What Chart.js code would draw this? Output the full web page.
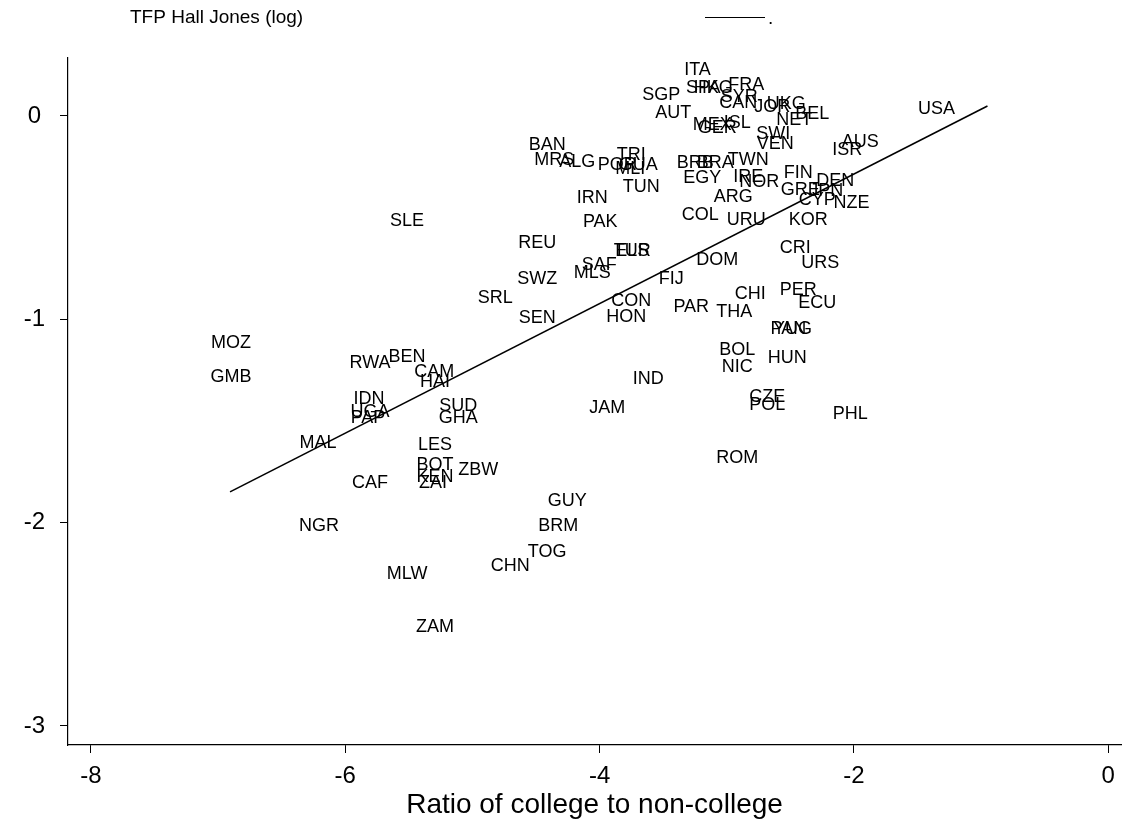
<!DOCTYPE html>
<html>
<head>
<meta charset="utf-8">
<script src="https://cdn.jsdelivr.net/npm/chart.js@4.4.0/dist/chart.umd.min.js"></script>
<style>
  html, body { margin: 0; padding: 0; background: #fff; }
</style>
</head>
<body>
<canvas id="scatter" width="1133" height="827"></canvas>
<script>
// Country codes, x = ratio of college to non-college (log), y = TFP Hall Jones (log)
const countries = [
  "USA", "ITA", "SPA", "HKG", "FRA", "SYR", "CAN", "SGP", "AUT", "MEX",
  "GER", "ISL", "JOR", "UKG", "BEL", "NET", "SWI", "VEN", "AUS", "ISR",
  "TWN", "BRB", "BRA", "EGY", "IRE", "NOR", "FIN", "DEN", "GRE", "JPN",
  "CYP", "NZE", "ARG", "URU", "KOR", "COL", "CRI", "URS", "DOM", "PER",
  "ECU", "CHI", "THA", "PAR", "PAN", "YUG", "BOL", "HUN", "NIC", "CZE",
  "POL", "PHL", "ROM", "BAN", "MRS", "ALG", "POR", "TRI", "MLI", "GUA",
  "TUN", "IRN", "PAK", "TUR", "ELS", "SAF", "MLS", "FIJ", "CON", "HON",
  "SLE", "REU", "SWZ", "SRL", "SEN", "MOZ", "GMB", "RWA", "BEN", "CAM",
  "HAI", "IDN", "UGA", "PAP", "SUD", "GHA", "MAL", "LES", "BOT", "KEN",
  "ZAI", "ZBW", "CAF", "NGR", "IND", "JAM", "GUY", "BRM", "TOG", "CHN",
  "MLW", "ZAM"
];
const collegeRatio = [
  -1.35, -3.23, -3.185, -3.106, -2.847, -2.902, -2.91, -3.515, -3.421, -3.114,
  -3.075, -2.917, -2.642, -2.532, -2.327, -2.469, -2.634, -2.619, -1.95, -2.052,
  -2.831, -3.248, -3.091, -3.193, -2.831, -2.744, -2.437, -2.146, -2.422, -2.217,
  -2.288, -2.02, -2.949, -2.847, -2.359, -3.208, -2.461, -2.264, -3.075, -2.437,
  -2.288, -2.815, -2.941, -3.279, -2.516, -2.484, -2.917, -2.524, -2.917, -2.681,
  -2.681, -2.028, -2.917, -4.412, -4.357, -4.176, -3.862, -3.751, -3.759, -3.696,
  -3.673, -4.058, -3.995, -3.744, -3.744, -4.003, -4.058, -3.437, -3.751, -3.791,
  -5.514, -4.491, -4.491, -4.821, -4.491, -6.898, -6.898, -5.805, -5.514, -5.301,
  -5.294, -5.813, -5.805, -5.821, -5.112, -5.112, -6.214, -5.294, -5.294, -5.294,
  -5.309, -4.955, -5.805, -6.206, -3.618, -3.94, -4.255, -4.326, -4.412, -4.703,
  -5.514, -5.294
];
const tfpLog = [
  0.034, 0.226, 0.138, 0.138, 0.152, 0.093, 0.064, 0.103, 0.015, -0.044,
  -0.059, -0.034, 0.044, 0.059, 0.01, -0.02, -0.089, -0.138, -0.128, -0.167,
  -0.216, -0.231, -0.231, -0.305, -0.3, -0.325, -0.28, -0.32, -0.364, -0.369,
  -0.413, -0.428, -0.398, -0.512, -0.512, -0.487, -0.649, -0.723, -0.708, -0.856,
  -0.92, -0.876, -0.964, -0.94, -1.048, -1.048, -1.151, -1.19, -1.235, -1.382,
  -1.422, -1.466, -1.682, -0.143, -0.216, -0.226, -0.241, -0.192, -0.261, -0.241,
  -0.349, -0.403, -0.521, -0.664, -0.664, -0.733, -0.772, -0.802, -0.91, -0.989,
  -0.516, -0.625, -0.802, -0.895, -0.994, -1.117, -1.284, -1.215, -1.185, -1.259,
  -1.308, -1.392, -1.456, -1.486, -1.426, -1.486, -1.608, -1.618, -1.717, -1.776,
  -1.805, -1.741, -1.805, -2.017, -1.294, -1.436, -1.894, -2.017, -2.145, -2.213,
  -2.253, -2.514
];

// fitted line end points
const fitX = [-6.906, -0.95];
const fitY = [-1.849, 0.049];

const xTicks = [-8, -6, -4, -2, 0];
const yTicks = [0, -1, -2, -3];

const FONT = "'Liberation Sans', Arial, sans-serif";

// draw the country codes centred on their points
const countryLabels = {
  id: "countryLabels",
  afterDatasetsDraw(chart) {
    const ctx = chart.ctx;
    const meta = chart.getDatasetMeta(0);
    ctx.save();
    ctx.font = "18px " + FONT;
    ctx.fillStyle = "#000";
    ctx.textAlign = "center";
    ctx.textBaseline = "middle";
    meta.data.forEach((pt, i) => {
      ctx.fillText(countries[i], pt.x, pt.y);
    });
    ctx.restore();
  },
};

// stata style legend on top
const topLegend = {
  id: "topLegend",
  afterDraw(chart) {
    const ctx = chart.ctx;
    ctx.save();
    ctx.font = "19px " + FONT;
    ctx.fillStyle = "#000";
    ctx.textBaseline = "middle";
    ctx.fillText("TFP Hall Jones (log)", 130, 18);
    ctx.strokeStyle = "#000";
    ctx.lineWidth = 1;
    ctx.beginPath();
    ctx.moveTo(705, 17.5);
    ctx.lineTo(765, 17.5);
    ctx.stroke();
    ctx.fillText(".", 768, 19);
    ctx.restore();
  },
};

const ctx = document.getElementById("scatter").getContext("2d");

new Chart(ctx, {
  type: "scatter",
  data: {
    datasets: [
      {
        label: "TFP Hall Jones (log)",
        data: countries.map((c, i) => ({ x: collegeRatio[i], y: tfpLog[i] })),
        pointRadius: 0,
        pointHoverRadius: 0,
      },
      {
        label: ".",
        type: "line",
        data: fitX.map((v, i) => ({ x: v, y: fitY[i] })),
        borderColor: "#000",
        borderWidth: 1.6,
        pointRadius: 0,
        fill: false,
        tension: 0,
      },
    ],
  },
  options: {
    responsive: false,
    animation: false,
    layout: {
      padding: { top: 58, right: 12, bottom: 0, left: 0 },
    },
    plugins: {
      legend: { display: false },
      tooltip: { enabled: false },
    },
    scales: {
      x: {
        type: "linear",
        min: -8.18,
        max: 0.1,
        afterBuildTicks: (scale) => {
          scale.ticks = xTicks.map((v) => ({ value: v }));
        },
        afterFit: (scale) => {
          scale.height = 82;
        },
        grid: {
          display: true,
          drawOnChartArea: false,
          drawTicks: true,
          tickLength: 8,
          color: "#000",
        },
        border: { display: true, color: "#000", width: 1.2 },
        ticks: {
          color: "#000",
          padding: 9,
          font: { size: 24, family: FONT },
        },
        title: {
          display: true,
          text: "Ratio of college to non-college",
          color: "#000",
          padding: { top: 0, bottom: 5 },
          font: { size: 28, family: FONT },
        },
      },
      y: {
        type: "linear",
        min: -3.094,
        max: 0.285,
        afterBuildTicks: (scale) => {
          scale.ticks = yTicks.map((v) => ({ value: v }));
        },
        afterFit: (scale) => {
          scale.width = 68;
        },
        grid: {
          display: true,
          drawOnChartArea: false,
          drawTicks: true,
          tickLength: 8,
          color: "#000",
        },
        border: { display: true, color: "#000", width: 1.2 },
        ticks: {
          color: "#000",
          padding: 15,
          crossAlign: "center",
          font: { size: 24, family: FONT },
        },
      },
    },
  },
  plugins: [countryLabels, topLegend],
});
</script>
</body>
</html>
